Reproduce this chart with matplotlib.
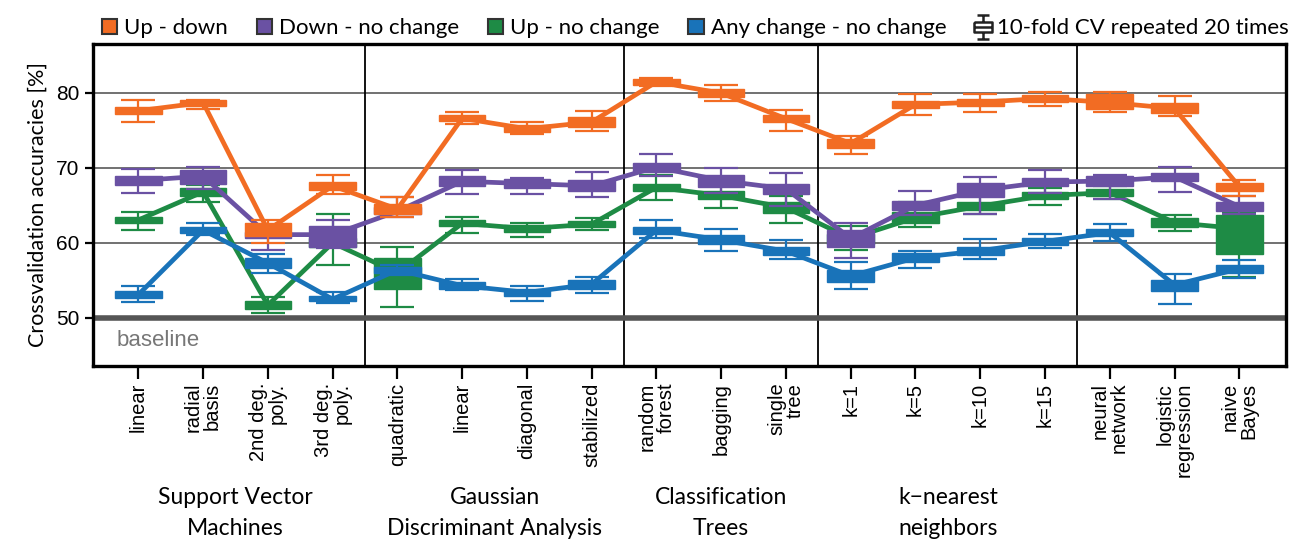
import numpy as np
import matplotlib
matplotlib.use('Agg')
import matplotlib.pyplot as plt
from matplotlib.path import Path
from matplotlib.patches import Patch
from matplotlib.lines import Line2D
from matplotlib.transforms import blended_transform_factory

# --- data ---
methods = ['linear', 'radial\nbasis', '2nd deg.\npoly.', '3rd deg.\npoly.',
           'quadratic', 'linear', 'diagonal', 'stabilized',
           'random\nforest', 'bagging', 'single\ntree',
           'k=1', 'k=5', 'k=10', 'k=15',
           'neural\nnetwork', 'logistic\nregression', 'naive\nBayes']
groups = ['Support Vector\nMachines', 'Gaussian\nDiscriminant Analysis',
          'Classification\nTrees', 'k\u2212nearest\nneighbors']
group_centers = [1.5, 5.5, 9.0, 12.5]
group_breaks = [3.5, 7.5, 10.5, 14.5]

updown_med = [77.6, 78.7, 61.7, 67.6, 64.5, 76.6, 75.2, 76.1, 81.45, 79.95, 76.55, 73.25, 78.45, 78.75, 79.25, 78.7, 77.9, 67.5]
updown_q1 = [77.2, 78.3, 60.9, 67.1, 63.9, 76.2, 74.8, 75.4, 81.0, 79.4, 76.05, 72.6, 78.0, 78.3, 78.8, 77.8, 77.3, 66.9]
updown_q3 = [78.05, 79.0, 62.6, 68.1, 65.2, 77.0, 75.7, 76.8, 81.9, 80.45, 77.0, 73.85, 78.9, 79.2, 79.7, 79.8, 78.6, 68.0]
updown_lo = [76.15, 77.9, 60.0, 66.5, 63.5, 75.9, 74.5, 74.95, 80.9, 78.9, 74.9, 71.9, 77.1, 77.4, 78.2, 77.4, 76.9, 66.2]
updown_hi = [79.0, 79.1, 63.1, 69.0, 66.1, 77.5, 76.1, 77.6, 82.0, 81.0, 77.7, 74.3, 79.8, 79.9, 80.1, 80.1, 79.6, 68.35]

downnc_med = [68.3, 68.9, 61.1, 61.1, 64.2, 68.2, 67.9, 67.6, 70.1, 68.3, 67.2, 60.6, 65.0, 67.0, 68.1, 68.25, 68.8, 64.85]
downnc_q1 = [67.7, 67.9, 60.7, 59.5, 63.8, 67.6, 67.3, 66.9, 69.5, 67.5, 66.5, 59.4, 64.4, 66.1, 67.6, 67.6, 68.25, 64.25]
downnc_q3 = [68.85, 69.7, 61.5, 62.3, 64.8, 68.85, 68.5, 68.4, 70.6, 69.1, 67.9, 61.7, 65.6, 68.0, 68.7, 68.95, 69.35, 65.4]
downnc_lo = [66.6, 67.2, 59.1, 59.3, 63.5, 66.55, 66.55, 66.1, 68.9, 66.6, 64.9, 58.0, 63.65, 63.9, 66.7, 65.9, 66.8, 63.9]
downnc_hi = [69.8, 70.1, 62.0, 63.1, 66.1, 69.65, 68.6, 69.5, 71.9, 70.0, 69.3, 62.6, 66.85, 68.8, 69.75, 69.1, 70.1, 66.3]

upnc_med = [63.05, 66.8, 51.7, 60.0, 56.0, 62.6, 61.9, 62.5, 67.4, 66.3, 64.7, 60.6, 63.35, 64.9, 66.3, 66.7, 62.7, 61.9]
upnc_q1 = [62.6, 66.3, 51.2, 59.4, 53.9, 62.2, 61.4, 62.1, 66.9, 65.8, 63.95, 59.9, 62.6, 64.4, 65.8, 66.2, 62.1, 58.5]
upnc_q3 = [63.5, 67.3, 52.2, 60.7, 58.0, 63.1, 62.4, 62.9, 67.9, 66.85, 65.5, 61.2, 64.1, 65.45, 66.8, 67.2, 63.25, 63.75]
upnc_lo = [61.7, 65.4, 50.7, 57.0, 51.5, 61.3, 60.75, 61.7, 65.65, 64.6, 62.7, 59.1, 62.1, 63.9, 65.0, 65.9, 61.6, 55.5]
upnc_hi = [64.1, 67.7, 52.8, 63.9, 59.5, 63.4, 62.7, 63.3, 69.1, 68.0, 66.2, 62.3, 65.5, 66.2, 67.3, 67.55, 63.7, 64.0]

anync_med = [53.1, 61.7, 57.3, 52.5, 56.4, 54.3, 53.4, 54.5, 61.7, 60.4, 58.9, 55.6, 58.0, 58.95, 60.2, 61.35, 54.4, 56.55]
anync_q1 = [52.7, 61.3, 56.7, 52.2, 56.0, 53.9, 52.95, 53.9, 61.25, 59.8, 58.35, 54.85, 57.4, 58.45, 59.7, 60.9, 53.65, 56.05]
anync_q3 = [53.6, 62.15, 58.0, 52.9, 56.8, 54.8, 53.85, 55.1, 62.15, 61.0, 59.45, 56.35, 58.6, 59.45, 60.7, 61.8, 55.1, 57.0]
anync_lo = [52.1, 61.1, 56.0, 52.0, 55.7, 53.7, 52.3, 53.3, 60.7, 58.95, 57.8, 53.85, 56.7, 57.8, 59.3, 60.2, 51.9, 55.35]
anync_hi = [54.2, 62.6, 58.5, 53.4, 57.1, 55.2, 54.2, 55.5, 63.0, 61.8, 60.35, 57.5, 58.95, 60.5, 61.2, 62.55, 55.9, 57.7]

# drawing order: green, blue, purple, orange (orange on top)
series = [
    ('Up - no change', '#1E8B45', upnc_med, upnc_q1, upnc_q3, upnc_lo, upnc_hi),
    ('Any change - no change', '#1973B9', anync_med, anync_q1, anync_q3, anync_lo, anync_hi),
    ('Down - no change', '#6A51A3', downnc_med, downnc_q1, downnc_q3, downnc_lo, downnc_hi),
    ('Up - down', '#F26C23', updown_med, updown_q1, updown_q3, updown_lo, updown_hi),
]
legend_order = ['Up - down', 'Down - no change', 'Up - no change', 'Any change - no change']

LABEL_FONT = ['Lato', 'DejaVu Sans']
TICK_FONT = ['Liberation Sans', 'DejaVu Sans']

fig = plt.figure(figsize=(13.08, 5.43), dpi=100)
ax = fig.add_axes([0.0711, 0.326, 0.9120, 0.593])
x = np.arange(len(methods))

for z, (name, col, med, q1, q3, lo, hi) in enumerate(series):
    med = np.array(med); q1 = np.array(q1); q3 = np.array(q3)
    lo = np.array(lo); hi = np.array(hi)
    zz = 3 + z
    ax.errorbar(x, med, yerr=[med - lo, hi - med], fmt='none', ecolor=col,
                elinewidth=1.6, capsize=12, capthick=1.6, zorder=zz)
    ax.plot(x, med, color=col, lw=3.4, zorder=zz, solid_capstyle='round')
    ax.bar(x, q3 - q1, bottom=q1, width=0.72, color=col, edgecolor=col,
           linewidth=1.0, zorder=zz)

# baseline, grid and group separators
ax.axhline(50, color='#555555', lw=4, zorder=2)
for gy in [60, 70, 80]:
    ax.axhline(gy, color='#666666', lw=1.3, zorder=1)
for bx in group_breaks:
    ax.axvline(bx, color='black', lw=1.3, zorder=1)
ax.text(-0.33, 47.0, 'baseline', color='#777777', fontsize=16,
        family=TICK_FONT, ha='left', va='center')

ax.set_xlim(-0.7, 17.72)
ax.set_ylim(43.6, 86.5)
ax.set_yticks([50, 60, 70, 80])
ax.set_yticklabels(['50', '60', '70', '80'], family=TICK_FONT, fontsize=15)
ax.set_xticks(x)
ax.set_xticklabels(methods, rotation=90, family=TICK_FONT, fontsize=14.5,
                   multialignment='right', linespacing=1.0)
ax.tick_params(axis='x', length=9, width=1.6, pad=3)
ax.tick_params(axis='y', length=6, width=1.6, pad=4)
for sp in ax.spines.values():
    sp.set_linewidth(2.4)

ax.set_ylabel('Crossvalidation accuracies [%]', family=LABEL_FONT, fontsize=15.5, labelpad=6)

trans = blended_transform_factory(ax.transData, ax.transAxes)
for gx, gname in zip(group_centers, groups):
    ax.text(gx, -0.457, gname, transform=trans, ha='center', va='center',
            family=LABEL_FONT, fontsize=16.5, linespacing=1.6)

# legend
cmap = {s[0]: s[1] for s in series}
handles = [Patch(facecolor=cmap[n], edgecolor='#333333', linewidth=1.5) for n in legend_order]
labels = list(legend_order)
icon = Path([(-0.5, 1.0), (0.5, 1.0), (0.0, 1.0), (0.0, 0.45),
             (-0.75, 0.45), (0.75, 0.45), (0.75, -0.45), (-0.75, -0.45), (-0.75, 0.45),
             (-0.75, 0.0), (0.75, 0.0),
             (0.0, -0.45), (0.0, -1.0), (-0.5, -1.0), (0.5, -1.0)],
            [Path.MOVETO, Path.LINETO, Path.MOVETO, Path.LINETO,
             Path.MOVETO, Path.LINETO, Path.LINETO, Path.LINETO, Path.LINETO,
             Path.MOVETO, Path.LINETO,
             Path.MOVETO, Path.LINETO, Path.MOVETO, Path.LINETO])
handles.append(Line2D([], [], linestyle='none', marker=icon, markersize=17,
                      markerfacecolor='none', markeredgecolor='#222222', markeredgewidth=1.8))
labels.append('10-fold CV repeated 20 times')
ax.legend(handles, labels, loc='lower center', bbox_to_anchor=(0.505, 1.0), ncol=5,
          frameon=False, prop={'family': LABEL_FONT, 'size': 16},
          handlelength=0.7, handleheight=0.7, handletextpad=0.3,
          columnspacing=1.3, borderaxespad=0.15, borderpad=0.1)

fig.savefig('out.png', dpi=100)
